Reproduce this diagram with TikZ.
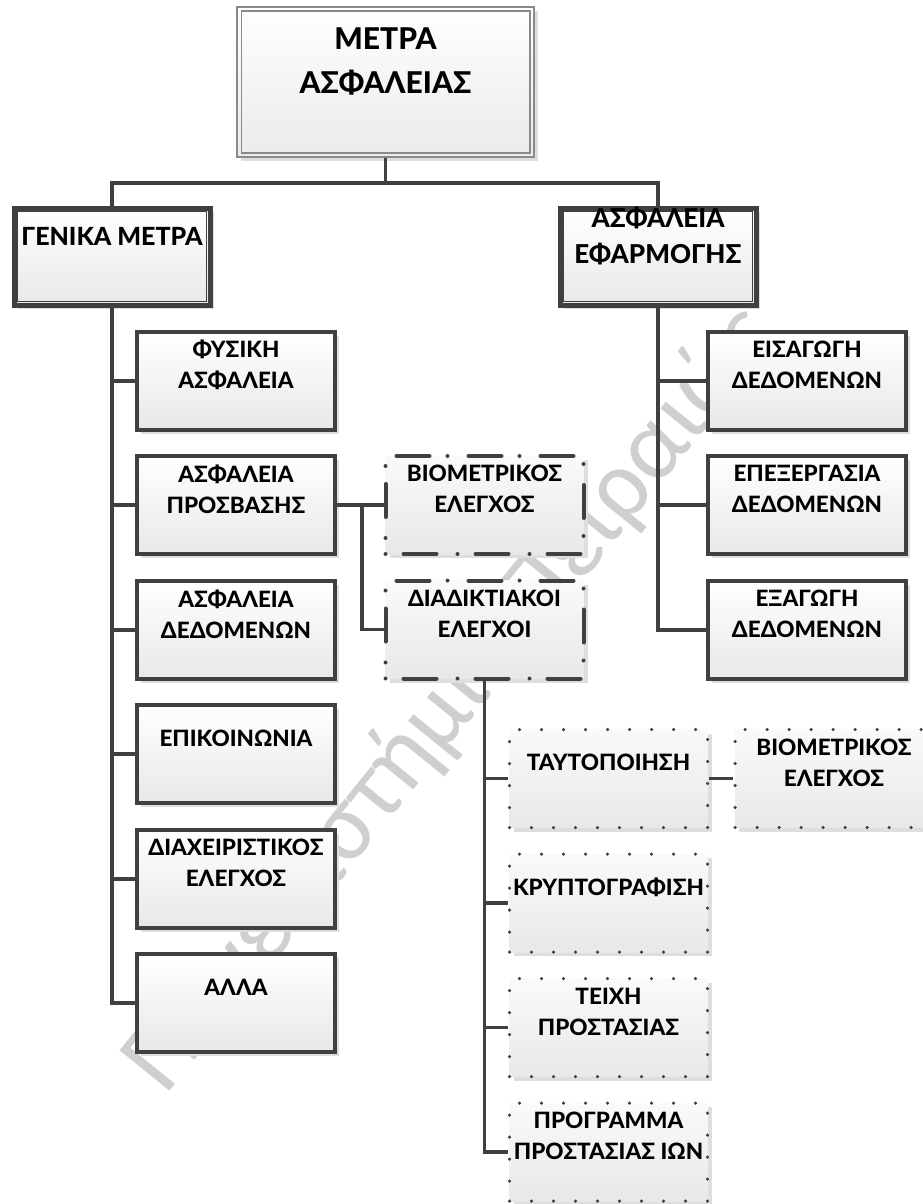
\documentclass[tikz,border=0pt]{standalone}
\usepackage{fontspec}
\setmainfont{Lato}[BoldFont={Lato Heavy}]
\newfontfamily\markfont{Carlito}
\usetikzlibrary{positioning,calc,shadows}
\definecolor{linegray}{HTML}{404040}
\definecolor{framegray}{HTML}{8A8A8A}
\definecolor{markgray}{HTML}{CFCFCF}
\tikzset{
  conn/.style={draw=linegray, line width=3.5pt},
  boxshadow/.style={drop shadow={shadow xshift=4pt, shadow yshift=-4pt, fill=black!13, opacity=1}},
  basebox/.style={rectangle, minimum width=198pt, minimum height=98pt, boxshadow},
  plainbox/.style={basebox, draw=linegray, line width=3.5pt, top color=white, bottom color=black!9},
  thickbox/.style={basebox, draw=linegray, line width=5pt, minimum width=196pt, minimum height=97pt, top color=white, bottom color=black!9},
  dashbox/.style={basebox, draw=linegray, line width=4pt, line cap=round, dash pattern=on 0pt off 18pt on 33pt off 21pt, top color=black!2, bottom color=black!9},
  dotbox/.style={basebox, draw=linegray, line width=3.5pt, line cap=round, dash pattern=on 0pt off 22pt, top color=black!2, bottom color=black!9},
  boxtext/.style={inner sep=0pt, align=center, text=black, font=\bfseries\fontsize{22.5}{31}\selectfont},
}
\begin{document}
\begin{tikzpicture}[x=1pt, y=-1pt]
  \clip (0,0) rectangle (923,1204);
  % watermark
  \node[rotate=51, inner sep=0pt, text=markgray, font=\markfont\fontsize{100}{100}\selectfont] (wm) at (452,700) {Πανεπιστήμιο Πειραιώς};

  % root
  \node[rectangle, draw=framegray, line width=1.5pt, minimum width=297pt, minimum height=150pt,
    top color=white, bottom color=black!8, boxshadow] (root) at (385.5,82) {};
  \draw[framegray, line width=1.5pt] ([shift={(5,5)}]root.north west) rectangle ([shift={(-5,-5)}]root.south east);
  \node[boxtext, font=\bfseries\fontsize{30}{44}\selectfont] (root-t) at ([yshift=-55pt]root.north) {ΜΕΤΡΑ\\ΑΣΦΑΛΕΙΑΣ};

  % second level
  \node[thickbox] (gen) at (112,256.5) {};
  \draw[linegray, line width=1.5pt] ([shift={(6,6)}]gen.north west) rectangle ([shift={(-6,-6)}]gen.south east);
  \node[boxtext, font=\bfseries\fontsize{25}{36}\selectfont] (gen-t) at ([yshift=-31pt]gen.north) {ΓΕΝΙΚΑ ΜΕΤΡΑ};
  \node[thickbox] (app) at (658,256.5) {};
  \draw[linegray, line width=1.5pt] ([shift={(6,6)}]app.north west) rectangle ([shift={(-6,-6)}]app.south east);
  \node[boxtext, font=\bfseries\fontsize{26}{36}\selectfont] (app-t) at ([yshift=-31pt]app.north) {ΑΣΦΑΛΕΙΑ\\ΕΦΑΡΜΟΓΗΣ};
  \draw[conn] (root.south) -- ++(0,25) -| (gen.north);
  \draw[conn] (root.south) -- ++(0,25) -| (app.north);

  % general measures
  \foreach \nm/\y/\txt in {fys/381/{ΦΥΣΙΚΗ\\ΑΣΦΑΛΕΙΑ}, pros/505/{ΑΣΦΑΛΕΙΑ\\ΠΡΟΣΒΑΣΗΣ},
      ded/630/{ΑΣΦΑΛΕΙΑ\\ΔΕΔΟΜΕΝΩΝ}, epik/754/{ΕΠΙΚΟΙΝΩΝΙΑ},
      diax/879/{ΔΙΑΧΕΙΡΙΣΤΙΚΟΣ\\ΕΛΕΓΧΟΣ}, alla/1003/{ΑΛΛΑ}} {
    \node[plainbox] (\nm) at (236,\y) {};
    \node[boxtext] (\nm-t) at ([yshift=-35pt]\nm.north) {\txt};
    \draw[conn] (gen.south) |- (\nm.west);
  }

  % application security
  \foreach \nm/\y/\txt in {eis/381/{ΕΙΣΑΓΩΓΗ\\ΔΕΔΟΜΕΝΩΝ}, epex/505/{ΕΠΕΞΕΡΓΑΣΙΑ\\ΔΕΔΟΜΕΝΩΝ},
      exag/630/{ΕΞΑΓΩΓΗ\\ΔΕΔΟΜΕΝΩΝ}} {
    \node[plainbox] (\nm) at (807,\y) {};
    \node[boxtext] (\nm-t) at ([yshift=-35pt]\nm.north) {\txt};
    \draw[conn] (app.south) |- (\nm.west);
  }

  % access security
  \node[dashbox] (bio) at (484.5,505) {};
  \node[boxtext] (bio-t) at ([yshift=-35pt]bio.north) {ΒΙΟΜΕΤΡΙΚΟΣ\\ΕΛΕΓΧΟΣ};
  \node[dashbox] (diad) at (484.5,629.5) {};
  \node[boxtext] (diad-t) at ([yshift=-35pt]diad.north) {ΔΙΑΔΙΚΤΙΑΚΟΙ\\ΕΛΕΓΧΟΙ};
  \coordinate[right=25pt of pros.east] (jn);
  \draw[conn] (pros.east) -- (bio.west);
  \draw[conn] (jn) |- (diad.west);

  % internet controls
  \foreach \nm/\y/\txt in {tayt/778.5/{ΤΑΥΤΟΠΟΙΗΣΗ}, krypt/903/{ΚΡΥΠΤΟΓΡΑΦΙΣΗ},
      teix/1027.5/{ΤΕΙΧΗ\\ΠΡΟΣΤΑΣΙΑΣ}, progr/1152/{ΠΡΟΓΡΑΜΜΑ\\ΠΡΟΣΤΑΣΙΑΣ ΙΩΝ}} {
    \node[dotbox] (\nm) at (608.5,\y) {};
    \node[boxtext] (\nm-t) at ([yshift=-35pt]\nm.north) {\txt};
    \draw[conn] (diad.south) |- (\nm.west);
  }
  \node[dotbox, right=24pt of tayt] (bio2) {};
  \node[boxtext] (bio2-t) at ([yshift=-35pt]bio2.north) {ΒΙΟΜΕΤΡΙΚΟΣ\\ΕΛΕΓΧΟΣ};
  \draw[conn] (tayt.east) -- (bio2.west);
\end{tikzpicture}
\end{document}
